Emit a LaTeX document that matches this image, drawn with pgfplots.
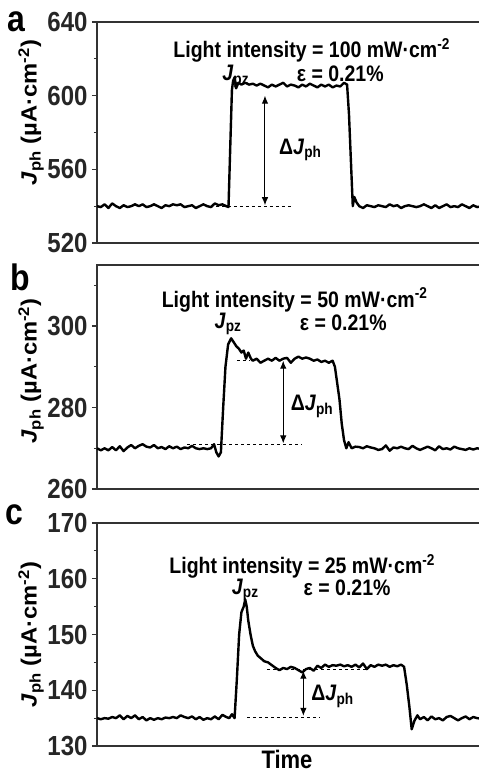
\documentclass[border=0pt]{standalone}
\usepackage{pgfplots}
\pgfplotsset{compat=1.18}
\usepackage{graphicx}
\usepackage{fontspec}
\setmainfont{Liberation Sans}
\usetikzlibrary{arrows.meta}

\newcommand{\tall}[1]{\scalebox{1}[1.15]{#1}}
\pgfplotsset{
  panel/.style={
    scale only axis, width=385pt,
    xmin=0, xmax=101.3,
    xtick=\empty,
    ytick pos=left,
    tick align=outside,
    major tick length=5pt, minor tick length=3pt,
    every tick/.style={line width=1.2pt, black!80},
    axis line style={line width=1.8pt, black!80},
    yticklabel style={font=\fontsize{24}{24}\selectfont\bfseries, text=black!85, xshift=-1pt},
    yticklabel={\tall{\pgfmathprintnumber{\tick}}},
    /pgf/number format/assume math mode=true,
    clip=false,
  },
  trace/.style={black, line width=2.4pt, line join=round},
}
\newcommand{\ann}{\fontsize{19.5}{20}\selectfont\bfseries}
\newcommand{\jlab}{\scalebox{1.08}[1]{\textit{J}\textsubscript{ph} (µA·cm\textsuperscript{-2})}}
\newcommand{\arr}{{Latex[length=8pt,width=6.5pt]}-{Latex[length=8pt,width=6.5pt]}}

\begin{document}
\begin{tikzpicture}
\path[use as bounding box] (-97pt,22pt) rectangle (382pt,-752pt);

% ---- a ----
\begin{axis}[panel, name=pa, at={(0pt,0pt)}, anchor=north west, height=221pt,
  ymin=520, ymax=640, ytick={520,560,600,640}, minor ytick={540,580,620}]
\addplot[trace] coordinates {
(0,540)(1,539.5)(2,541)(3,539)(4,541.5)(5,540)(6,539)(7,540.5)(8,539.5)(9,540)
(10,541)(11,540)(12,541)(13,539.5)(14,540)(15,541)(16,540)(17,539)(18,540.5)(19,540)
(20,541)(21,540.5)(22,541)(23,539.5)(24,540)(25,540.5)(26,539)(27,540)(28,541)(29,540)
(30,539.5)(31,541.5)(32,540.5)(33,541)(34,540)(34.6,539.5)(35.1,575)(35.5,603)(35.8,608)(36.2,610)
(36.6,604)(37.2,607)(38,606)(39,607)(40,606)(41,606.5)(42,605.5)(43,606.5)(44,605.5)(45,604.5)
(46,606)(47,605)(48,606)(49,607)(50,605)(51,606)(52,605.5)(53,604.5)(54,606)(55,605)
(56,606.5)(57,605.5)(58,604.5)(59,606)(60,605)(61,606)(62,604.5)(63,605.5)(64,605)(65,607)
(65.8,606)(66.3,590)(66.8,565)(67.3,540)(67.7,545)(68.3,542)(69,540)(70,539)(71,540.5)(72,540)
(73,539.5)(74,540.5)(75,540)(76,539.5)(77,541)(78,540)(79,540.5)(80,539)(81,540)(82,540.5)
(83,540)(84,539.5)(85,540)(86,541)(87,540)(88,539)(89,540.5)(90,539)(91,540)(92,541)
(93,539.5)(94,540)(95,539.5)(96,541)(97,540)(98,539)(99,540.5)(100,539.5)(101.3,540)
};
\node[font=\ann, inner sep=1pt] at (axis cs:56.5,624.5) {\tall{Light intensity = 100 mW·cm\textsuperscript{-2}}};
\node[font=\ann, inner sep=1pt] at (axis cs:36.5,610.5) {\tall{\textit{J}\textsubscript{pz}}};
\node[font=\ann, inner sep=1pt] at (axis cs:64,612) {\tall{ε = 0.21\%}};
\node[font=\ann, inner sep=1pt] at (axis cs:53.5,570.5) {\tall{Δ\textit{J}\textsubscript{ph}}};
\draw[dashed, line width=0.6pt] (axis cs:29.7,540) -- (axis cs:51.3,540);
\draw[\arr, line width=1pt] (axis cs:44.2,600) -- (axis cs:44.2,540.5);
\end{axis}
\node[rotate=90, font=\fontsize{22}{22}\selectfont\bfseries] at ([xshift=-66pt, yshift=20pt]pa.west) {\jlab};
\node[font=\fontsize{32}{32}\selectfont\bfseries] at (-81pt,0pt) {\tall{a}};

% ---- b ----
\begin{axis}[panel, name=pb, at={(0pt,-243pt)}, anchor=north west, height=224pt,
  ymin=260, ymax=315, ytick={260,280,300}, minor ytick={270,290,310}]
\addplot[trace] coordinates {
(0,270)(1,269.5)(2,270)(3,269.5)(4,270.3)(5,269.5)(6,270.5)(7,269.3)(8,270.2)(9,270.8)
(10,270)(11,270.6)(12,271)(13,270.4)(14,270.2)(15,270.8)(16,270)(17,270.3)(18,269.8)(19,270.5)
(20,270)(21,270.4)(22,269.8)(23,270.2)(24,270)(25,270.6)(26,270)(27,269.8)(28,270)(29,269.8)
(30,270)(30.8,271)(31.4,269)(32,268)(32.6,269)(33.2,280)(33.8,290)(34.5,295.5)(35.3,297)(36,296)
(36.7,295)(37.3,294.5)(38,293.5)(38.6,294)(39.2,292)(39.8,293.5)(40.5,292)(41,291.5)(42,292)(43,291)
(44,291.5)(45,292)(46,291.5)(47,292.2)(48,291.5)(49,292)(50,292.2)(51,291)(52,292)(53,292.5)
(54,292)(55,292.3)(56,292)(57,291.5)(58,291.8)(59,291.2)(60,291.5)(61,291)(62,291.5)(62.6,290)
(63.2,286)(63.8,282)(64.4,276)(65,272)(65.6,270)(66.2,271.5)(67,270)(68,270.4)(69,270.3)(70,270)
(71,270.5)(72,270.2)(73,270)(74,269.6)(75,269.8)(76,270.7)(77,269.4)(78,270.2)(79,270)(80,270.4)
(81,270)(82,269.8)(83,270.6)(84,270)(85,269.6)(86,270)(87,270.4)(88,270)(89,269.5)(90,270.5)
(91,269.8)(92,270)(93,269.7)(94,270.4)(95,270)(96,269.8)(97,269.6)(98,270)(99,269.7)(100,270)(101.3,269.8)
};
\node[font=\ann, inner sep=1pt] at (axis cs:52,306.5) {\tall{Light intensity = 50 mW·cm\textsuperscript{-2}}};
\node[font=\ann, inner sep=1pt] at (axis cs:34.5,300.5) {\tall{\textit{J}\textsubscript{pz}}};
\node[font=\ann, inner sep=1pt] at (axis cs:64.8,300.8) {\tall{ε = 0.21\%}};
\node[font=\ann, inner sep=1pt] at (axis cs:56.6,280.3) {\tall{Δ\textit{J}\textsubscript{ph}}};
\draw[dashed, line width=0.6pt] (axis cs:23.7,271) -- (axis cs:54,271);
\draw[dashed, line width=0.6pt] (axis cs:36.8,291.5) -- (axis cs:40,291.5);
\draw[\arr, line width=1pt] (axis cs:49,291.5) -- (axis cs:49,271.2);
\end{axis}
\node[rotate=90, font=\fontsize{22}{22}\selectfont\bfseries] at ([xshift=-66pt, yshift=6pt]pb.west) {\jlab};
\node[font=\fontsize{32}{32}\selectfont\bfseries] at (-77pt,-255pt) {\tall{b}};

% ---- c ----
\begin{axis}[panel, name=pc, at={(0pt,-501pt)}, anchor=north west, height=223pt,
  ymin=130, ymax=170, ytick={130,140,150,160,170}, minor ytick={135,145,155,165}]
\addplot[trace] coordinates {
(0,135)(1,134.8)(2,135)(3,134.9)(4,135.2)(5,135)(6,135.5)(7,134.8)(8,135.4)(9,135)
(10,135.5)(11,134.8)(12,135.2)(13,134.6)(14,135)(15,134.7)(16,135)(17,134.8)(18,135.1)(19,135)
(20,135.2)(21,135)(22,135.5)(23,135.2)(24,135)(25,135.3)(26,134.8)(27,135.2)(28,134.7)(29,135)
(30,134.8)(31,135.3)(32,134.8)(33,135.6)(34,135.2)(34.8,135)(35.5,135.7)(36.2,135)(36.8,142)(37.4,150)
(38,154)(38.6,155)(39,156.3)(39.4,155)(39.8,152.5)(40.4,150)(41,148)(41.6,147)(42.3,146.2)(43,145.8)
(44,145.2)(45,145)(46,144.5)(47,144)(48,143.6)(49,144)(50,143.8)(51,144.2)(52,144)(53,143.6)
(54,143.2)(55,143.8)(56,144)(57,143.5)(58,144.4)(59,144)(60,144.6)(61,144.2)(62,144.5)(63,144.4)
(64,144.6)(65,144.3)(66,144.5)(67,144.2)(68,144.6)(69,144.1)(70,144.8)(71,143.8)(72,144.5)(73,144.2)
(74,144.6)(75,144.4)(76,144.6)(77,144.2)(78,144.5)(79,144.3)(80,144.6)(80.8,144.2)(81.5,141)(82.2,137)
(82.8,133)(83.5,134.5)(84.3,135.5)(85,134.8)(86,135.2)(87,134.6)(88,135.3)(89,134.8)(90,135)(91,134.6)
(92,135.2)(93,135.4)(94,135)(95,134.6)(96,135)(97,135.3)(98,134.8)(99,135.2)(100,135)(101.3,134.9)
};
\node[font=\ann, inner sep=1pt] at (axis cs:54,162.2) {\tall{Light intensity = 25 mW·cm\textsuperscript{-2}}};
\node[font=\ann, inner sep=1pt] at (axis cs:39,158) {\tall{\textit{J}\textsubscript{pz}}};
\node[font=\ann, inner sep=1pt] at (axis cs:65.8,158.3) {\tall{ε = 0.21\%}};
\node[font=\ann, inner sep=1pt] at (axis cs:62,138.9) {\tall{Δ\textit{J}\textsubscript{ph}}};
\draw[dashed, line width=0.6pt] (axis cs:39.5,135.2) -- (axis cs:58.7,135.2);
\draw[dashed, line width=0.6pt] (axis cs:44.7,143.7) -- (axis cs:71,143.7);
\draw[\arr, line width=1pt] (axis cs:54.3,143.5) -- (axis cs:54.3,135.4);
\end{axis}
\node[rotate=90, font=\fontsize{22}{22}\selectfont\bfseries] at ([xshift=-66pt]pc.west) {\jlab};
\node[font=\fontsize{32}{32}\selectfont\bfseries] at (-83pt,-493pt) {\tall{c}};
\node[font=\fontsize{22}{22}\selectfont\bfseries, inner sep=0pt] at (190pt,-737pt) {\tall{Time}};
\end{tikzpicture}
\end{document}
